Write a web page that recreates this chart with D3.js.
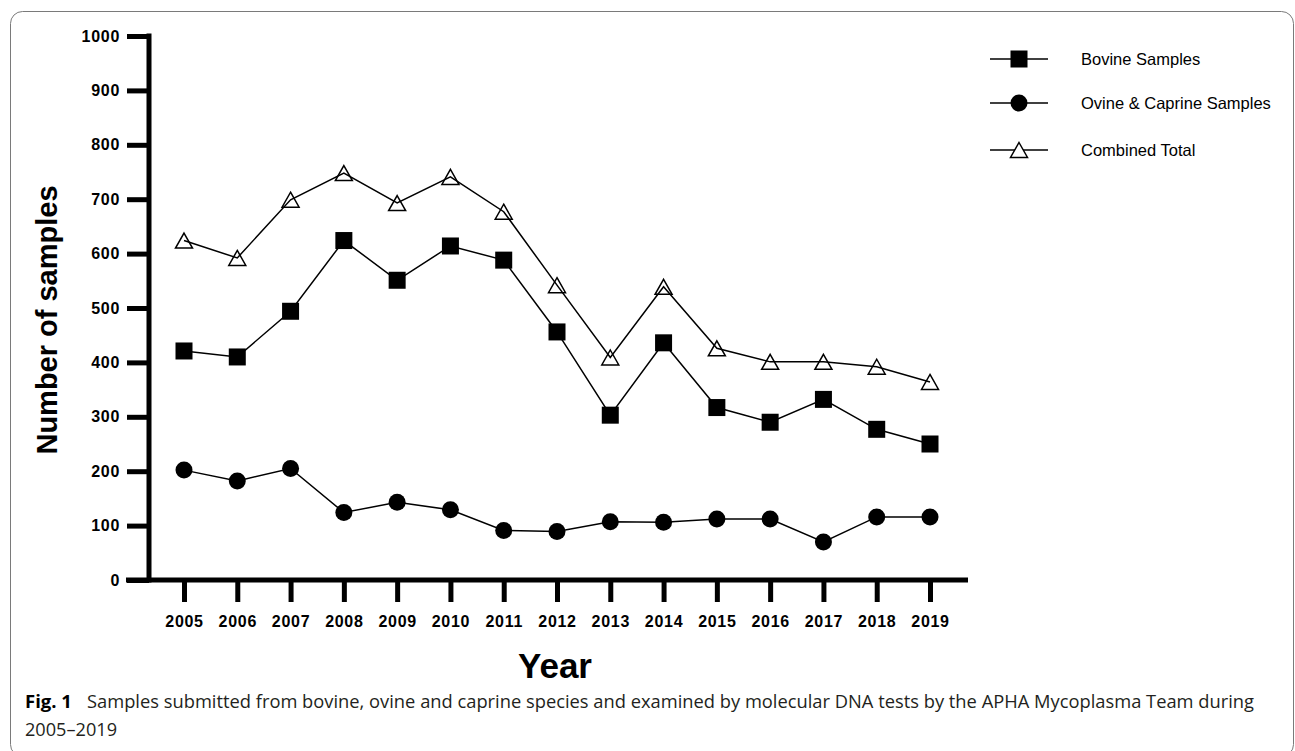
<!DOCTYPE html>
<html><head><meta charset="utf-8">
<script src="https://cdn.jsdelivr.net/npm/d3@7"></script>
<style>
html,body{margin:0;padding:0;background:#fff;}
svg{display:block;}
</style></head>
<body>
<svg id="chart" width="1295" height="751"></svg>
<script>
const years = [2005,2006,2007,2008,2009,2010,2011,2012,2013,2014,2015,2016,2017,2018,2019];
const bovine = [421,410,494,624,551,614,588,456,303,436,317,290,332,277,250];
const ovineCaprine = [202,182,205,124,143,129,91,89,107,106,112,112,70,116,116];
const combined = [624,592,699,748,693,741,677,542,409,539,426,401,401,392,364];
const yTicks = [0,100,200,300,400,500,600,700,800,900,1000];
const seriesNames = ["Bovine Samples","Ovine & Caprine Samples","Combined Total"];
const captionBold = "Fig. 1";
const captionLine1 = "Samples submitted from bovine, ovine and caprine species and examined by molecular DNA tests by the APHA Mycoplasma Team during";
const captionLine2 = "2005–2019";

const svg = d3.select("#chart");
const axisFont = "'Liberation Sans', Arial, Helvetica, sans-serif";

// frame
svg.append("rect").attr("x",10.5).attr("y",11.5).attr("width",1283).attr("height",745)
  .attr("rx",12).attr("ry",12).attr("fill","none").attr("stroke","#7a7a7a").attr("stroke-width",1);

const x = d3.scaleLinear().domain([2005,2019]).range([184,930]);
const y = d3.scaleLinear().domain([0,1000]).range([580,36]);

// y axis
const yAxis = d3.axisLeft(y).tickValues(yTicks).tickSize(22).tickPadding(7).tickFormat(d3.format("d"));
const gy = svg.append("g").attr("transform","translate(149,0)").call(yAxis);
gy.select(".domain").remove();
gy.selectAll(".tick line").attr("stroke","#000").attr("stroke-width",5);
gy.selectAll(".tick text").attr("font-family",axisFont).attr("font-weight","bold")
  .attr("font-size",16).attr("letter-spacing","0.7px").attr("fill","#000");
svg.append("line").attr("x1",149).attr("x2",149).attr("y1",y(1000)-2.5).attr("y2",y(0)+2.5)
  .attr("stroke","#000").attr("stroke-width",5);

// x axis
const xAxis = d3.axisBottom(x).tickValues(years).tickSize(22).tickPadding(14).tickFormat(d3.format("d"));
const gx = svg.append("g").attr("transform","translate(0,580)").call(xAxis);
gx.select(".domain").remove();
gx.selectAll(".tick line").attr("stroke","#000").attr("stroke-width",5);
gx.selectAll(".tick text").attr("font-family",axisFont).attr("font-weight","bold")
  .attr("font-size",16).attr("letter-spacing","0.7px").attr("fill","#000");
svg.append("line").attr("x1",126).attr("x2",968).attr("y1",580).attr("y2",580)
  .attr("stroke","#000").attr("stroke-width",5);

// axis titles
svg.append("text").attr("transform","translate(57,320) rotate(-90)").attr("text-anchor","middle")
  .attr("font-family",axisFont).attr("font-weight","bold").attr("font-size",29).text("Number of samples");
svg.append("text").attr("x",555).attr("y",678).attr("text-anchor","middle")
  .attr("font-family",axisFont).attr("font-weight","bold").attr("font-size",35).text("Year");

// lines
const lineGen = d3.line().x((d,i)=>x(years[i])).y(d=>y(d));
[bovine, ovineCaprine, combined].forEach(ds=>{
  svg.append("path").datum(ds).attr("d",lineGen).attr("fill","none")
    .attr("stroke","#000").attr("stroke-width",1.5);
});

const sq = 17, cr = 8.5, tw = 17, th = 15;
function triPath(cx,cy){ return `M${cx},${cy-th/2}L${cx+tw/2},${cy+th/2}L${cx-tw/2},${cy+th/2}Z`; }

svg.append("g").selectAll("rect").data(bovine).join("rect")
  .attr("x",(d,i)=>x(years[i])-sq/2).attr("y",d=>y(d)-sq/2).attr("width",sq).attr("height",sq).attr("fill","#000");
svg.append("g").selectAll("circle").data(ovineCaprine).join("circle")
  .attr("cx",(d,i)=>x(years[i])).attr("cy",d=>y(d)).attr("r",cr).attr("fill","#000");
svg.append("g").selectAll("path").data(combined).join("path")
  .attr("d",(d,i)=>triPath(x(years[i]),y(d))).attr("fill","none").attr("stroke","#000").attr("stroke-width",1.5);

// legend
const legY = [59,103,150];
const lg = svg.append("g");
seriesNames.forEach((name,k)=>{
  const cy = legY[k];
  lg.append("line").attr("x1",990).attr("x2",1048).attr("y1",cy).attr("y2",cy).attr("stroke","#000").attr("stroke-width",1.5);
  if(k===0) lg.append("rect").attr("x",1019-8.5).attr("y",cy-8.5).attr("width",17).attr("height",17).attr("fill","#000");
  if(k===1) lg.append("circle").attr("cx",1019).attr("cy",cy).attr("r",8.5).attr("fill","#000");
  if(k===2) lg.append("path").attr("d",triPath(1019,cy)).attr("fill","#fff").attr("stroke","#000").attr("stroke-width",1.5);
  lg.append("text").attr("x",1081).attr("y",cy+6).attr("font-family",axisFont).attr("font-size",16.5)
    .attr("fill","#000").text(name);
});

// caption
const capFont = "'Open Sans', 'Noto Sans', sans-serif";
svg.append("text").attr("x",25).attr("y",708).attr("font-family",capFont).attr("font-size",18.5)
  .attr("font-weight","bold").attr("fill","#000").text(captionBold);
svg.append("text").attr("x",87).attr("y",708).attr("font-family",capFont).attr("font-size",18.5).attr("fill","#231f20")
  .attr("textLength",1167).attr("lengthAdjust","spacingAndGlyphs").text(captionLine1);
svg.append("text").attr("x",25).attr("y",736).attr("font-family",capFont).attr("font-size",18.5).attr("fill","#231f20")
  .attr("textLength",92).attr("lengthAdjust","spacingAndGlyphs").text(captionLine2);
</script>
</body></html>
